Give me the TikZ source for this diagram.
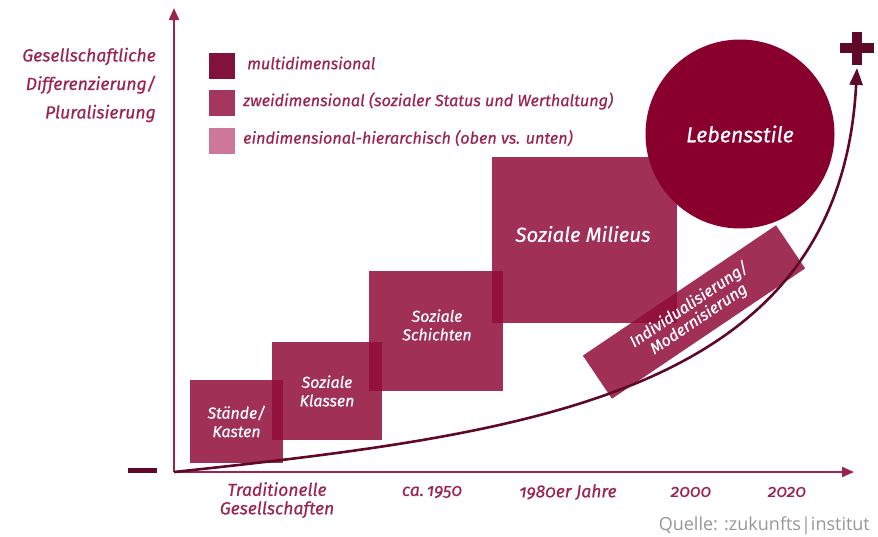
\documentclass[tikz,border=0pt]{standalone}
\usepackage{fontspec}
\setmainfont{Fira Sans}[Numbers=OldStyle, ItalicFeatures={FakeBold=0.5}]
\newfontfamily\quellefont{Open Sans}
\usetikzlibrary{arrows.meta}

\definecolor{axisred}{RGB}{155,35,80}
\definecolor{boxred}{RGB}{144,12,56}
\definecolor{circred}{RGB}{137,0,47}
\definecolor{curvered}{RGB}{95,8,42}
\definecolor{legdark}{RGB}{128,18,60}
\definecolor{legmid}{RGB}{165,55,95}
\definecolor{leglight}{RGB}{205,120,155}
\definecolor{srcgray}{RGB}{150,150,150}

% font size with a chosen line distance
\newcommand{\fsl}[2]{\fontsize{#1}{#2}\selectfont}

\begin{document}
\begin{tikzpicture}[x=1pt,y=-1pt,
  axisline/.style={draw=axisred, line width=2pt, -{Triangle[length=12pt,width=10pt]}},
  trendline/.style={draw=curvered, line width=2.6pt, -{Triangle[length=17pt,width=13pt]}},
  stage/.style={fill=boxred, fill opacity=0.85, text opacity=1, text=white,
    inner sep=0pt, align=center, font=\itshape\fsl{15.9}{18.5}},
  boxtext/.style={text=white, align=center, inner sep=0pt},
  legbox/.style={minimum size=26pt, inner sep=0pt},
  legtext/.style={text=axisred, anchor=west, inner sep=0pt, font=\itshape\fsl{16.2}{19}},
  yeartext/.style={text=axisred, inner sep=0pt, align=center, font=\itshape\fsl{17.5}{18.5}},
  sign/.style={draw=curvered, line width=#1},
]
\useasboundingbox (0,0) rectangle (878,536);

% stages of social structure
\node[stage, minimum width=93pt, minimum height=83pt] (kasten) at (236.5,421.5) {Stände/\\Kasten};
\node[stage, minimum width=110pt, minimum height=98pt] (klassen) at (327,391) {Soziale\\Klassen};
\node[stage, minimum width=134pt, minimum height=120pt] (schichten) at (436,331) {};
\node[boxtext, font=\itshape\fsl{15.9}{18.5}] (schichtentext) at (437,325) {Soziale\\Schichten};
\node[stage, minimum width=185pt, minimum height=166pt] (milieus) at (584.5,240) {};
\node[boxtext, font=\itshape\fsl{20.4}{24}] (milieustext) at (583,234) {Soziale Milieus};
\node[circle, fill=circred, minimum size=189pt, inner sep=0pt, text=white,
      font=\itshape\fsl{21.5}{24}] (leben) at (740,134) {Lebensstile};
\node[stage, rotate=34, minimum width=233pt, minimum height=52pt,
      font=\itshape\fsl{16}{17}] (indiv) at (694,312) {Individualisierung/\\Modernisierung};

% axes
\coordinate (origin) at (174,472);
\coordinate (ytip) at (174,8);
\coordinate (xtip) at (854,472);
\coordinate (trendtip) at (857,68);
\draw[axisline] (origin) -- (ytip);
\draw[axisline] (origin) -- (xtip);

% growth curve
\draw[trendline] (origin) .. controls (540,433) and (840,392) .. (trendtip);

% plus and minus marks
\coordinate (plus) at (857,48);
\coordinate (minus) at (142.5,470);
\draw[sign=10pt] ([xshift=-17pt]plus) -- ([xshift=17pt]plus);
\draw[sign=10pt] ([yshift=-16.5pt]plus) -- ([yshift=16.5pt]plus);
\draw[sign=5pt] ([xshift=-14.5pt]minus) -- ([xshift=14.5pt]minus);

% axis title
\node[text=axisred, align=right, anchor=east, inner sep=0pt,
      font=\itshape\fsl{17.6}{28.5}] (ytitle) at (156,85)
  {Gesellschaftliche\\Differenzierung/\\Pluralisierung};

% legend
\node[legbox, fill=legdark] (lg1) at (221.5,65.5) {};
\node[legbox, fill=legmid] (lg2) at (221.5,103) {};
\node[legbox, fill=leglight] (lg3) at (221.5,141) {};
\node[legtext] (lt1) at (247,63) {multidimensional};
\node[legtext] (lt2) at (243,101) {zweidimensional (sozialer Status und Werthaltung)};
\node[legtext] (lt3) at (243,138) {eindimensional-hierarchisch (oben vs. unten)};

% time axis labels
\node[yeartext, anchor=north] (trad) at (277,482) {Traditionelle\\Gesellschaften};
\node[yeartext] (y1950) at (432,492) {ca.\,1950};
\node[yeartext] (y1980) at (568,492) {1980er Jahre};
\node[yeartext] (y2000) at (691,492) {2000};
\node[yeartext] (y2020) at (787,492) {2020};

% source
\node[text=srcgray, anchor=east, inner sep=0pt, font=\quellefont\fsl{18}{21}] (quelle) at (870,526) {Quelle: :zukunfts|institut};
\end{tikzpicture}
\end{document}
